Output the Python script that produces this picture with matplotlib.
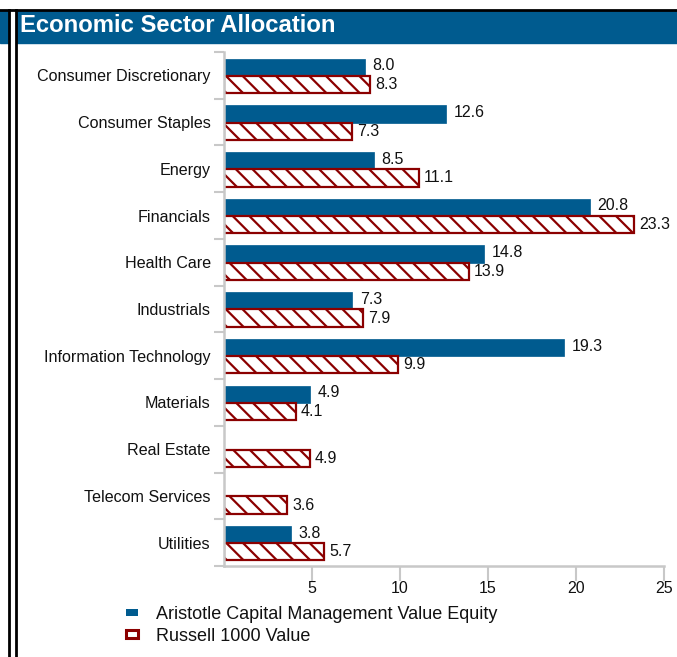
import matplotlib.pyplot as plt
from matplotlib.patches import Rectangle, Patch
from matplotlib.lines import Line2D

plt.rcParams['font.family'] = ['Liberation Sans', 'DejaVu Sans']
plt.rcParams['hatch.linewidth'] = 1.6

sectors = ["Consumer Discretionary", "Consumer Staples", "Energy", "Financials",
           "Health Care", "Industrials", "Information Technology", "Materials",
           "Real Estate", "Telecom Services", "Utilities"]
aristotle = [8.0, 12.6, 8.5, 20.8, 14.8, 7.3, 19.3, 4.9, None, None, 3.8]
russell = [8.3, 7.3, 11.1, 23.3, 13.9, 7.9, 9.9, 4.1, 4.9, 3.6, 5.7]
xticks = [5, 10, 15, 20, 25]

BLUE = "#005b8f"
RED = "#8b0000"
GRAY = "#c8c8c8"
TXT = "#111111"

W, H = 677, 657
fig = plt.figure(figsize=(W / 100, H / 100), dpi=100)

def fx(px):
    return px / W

def fy(py):
    return 1 - py / H

# panel frame and header band
fig.patches.append(Rectangle((0, fy(43)), fx(9), fy(11) - fy(43),
                             transform=fig.transFigure, color=BLUE, zorder=0))
fig.patches.append(Rectangle((fx(17), fy(43)), 1 - fx(17), fy(11) - fy(43),
                             transform=fig.transFigure, color=BLUE, zorder=0))
fig.lines.append(Line2D([0, 1], [fy(10), fy(10)], transform=fig.transFigure,
                        color="black", lw=2))
fig.lines.append(Line2D([fx(9), fx(9)], [0, fy(10)], transform=fig.transFigure,
                        color="black", lw=2))
fig.lines.append(Line2D([fx(16), fx(16)], [0, fy(10)], transform=fig.transFigure,
                        color="black", lw=2))
fig.text(fx(20), fy(26), "Economic Sector Allocation", color="white",
         fontsize=17.2, fontweight="bold", va="center", ha="left")

ax = fig.add_axes([fx(224), fy(566), fx(664) - fx(224), fy(52) - fy(566)])

pos = list(range(len(sectors)))
bh = 0.37
for i in pos:
    a = aristotle[i]
    r = russell[i]
    if a is not None:
        ax.barh(i - 0.175, a, height=bh, color=BLUE, edgecolor=BLUE, lw=0.5)
        ax.annotate(f"{a:.1f}", (a, i - 0.175), xytext=(5.5, 1),
                    textcoords="offset points", va="center", ha="left",
                    fontsize=11.5, color=TXT)
    ax.barh(i + 0.195, r, height=bh, facecolor="white", edgecolor=RED,
            hatch="\\\\", lw=1.6)
    ax.annotate(f"{r:.1f}", (r, i + 0.195), xytext=(3.5, 0),
                textcoords="offset points", va="center", ha="left",
                fontsize=11.5, color=TXT)

ax.set_ylim(10.5, -0.5)
ax.set_xlim(0, 25)
ax.set_yticks(pos)
ax.set_yticklabels(sectors, fontsize=11.6, color=TXT)
ax.set_yticks([p - 0.5 for p in pos] + [10.5], minor=True)
ax.tick_params(axis="y", which="major", length=0, pad=9.5)
ax.tick_params(axis="y", which="minor", length=7, width=1.5, color=GRAY)
ax.set_xticks(xticks)
ax.tick_params(axis="x", length=11, width=1.5, color=GRAY, labelsize=11.5,
               labelcolor=TXT, pad=0)

for s in ["top", "right"]:
    ax.spines[s].set_visible(False)
for s in ["left", "bottom"]:
    ax.spines[s].set_color(GRAY)
    ax.spines[s].set_linewidth(1.8)

handles = [Patch(facecolor=BLUE, edgecolor=BLUE, lw=0),
           Patch(facecolor="white", edgecolor=RED, lw=2.2)]
fig.legend(handles, ["Aristotle Capital Management Value Equity", "Russell 1000 Value"],
           loc="upper left", bbox_to_anchor=(fx(126), fy(606)), frameon=False,
           fontsize=13, handlelength=0.65, handleheight=0.25, handletextpad=1.0,
           labelspacing=0.25, borderpad=0, borderaxespad=0, labelcolor=TXT)

fig.savefig("out.png", dpi=100)
